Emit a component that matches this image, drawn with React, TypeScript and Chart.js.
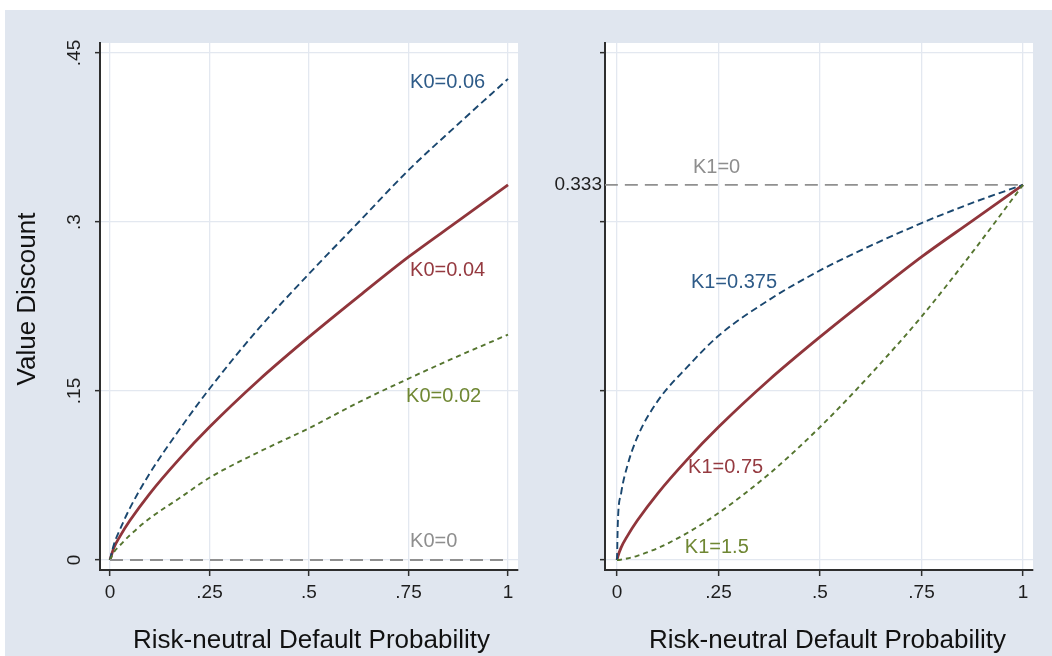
import React, { useEffect, useRef } from "react";
import { Chart, registerables } from "chart.js";

Chart.register(...registerables);

const FONT = "'Liberation Sans', Arial, sans-serif";

// ---------- data ----------
const xTicks = [0, 0.25, 0.5, 0.75, 1];
const xTickLabels = ["0", ".25", ".5", ".75", "1"];
const yTicksLeft = [0, 0.15, 0.3, 0.45];
const yTickLabelsLeft = ["0", ".15", ".3", ".45"];
const yTicksRight = [0, 0.15, 0.3, 0.333, 0.45];
const yTickLabelsRight = ["", "", "", "0.333", ""];

const probLeft = [0, 0.01, 0.025, 0.05, 0.1, 0.175, 0.25, 0.375, 0.5, 0.625, 0.75, 0.875, 1];
const k0_006 = [0, 0.014, 0.027, 0.046, 0.077, 0.116, 0.152, 0.206, 0.254, 0.3, 0.346, 0.387, 0.427];
const k0_004 = [0, 0.011, 0.021, 0.035, 0.059, 0.09, 0.118, 0.16, 0.198, 0.234, 0.269, 0.301, 0.333];
const k0_002 = [0, 0.007, 0.013, 0.022, 0.037, 0.055, 0.073, 0.096, 0.117, 0.14, 0.161, 0.181, 0.2];
const k0_0x = [0, 1];
const k0_0 = [0, 0];

const probRight = [0, 0.002, 0.01, 0.025, 0.05, 0.1, 0.175, 0.25, 0.375, 0.5, 0.625, 0.75, 0.875, 1];
const k1_0375 = [0, 0.033, 0.059, 0.083, 0.109, 0.141, 0.172, 0.199, 0.231, 0.257, 0.279, 0.299, 0.317, 0.333];
const k1_075 = [0, 0.003, 0.011, 0.021, 0.035, 0.059, 0.09, 0.118, 0.16, 0.198, 0.234, 0.269, 0.301, 0.333];
const k1_15 = [0, 0, 0.0003, 0.0013, 0.0037, 0.0105, 0.0244, 0.0417, 0.0765, 0.118, 0.165, 0.216, 0.273, 0.333];
const k1_0x = [-0.03, 1];
const k1_0 = [0.333, 0.333];

const leftNotes = ["K0=0.06", "K0=0.04", "K0=0.02", "K0=0"];
const rightNotes = ["K1=0", "K1=0.375", "K1=0.75", "K1=1.5"];

// ---------- styles ----------
const BG = "#e0e6ef";
const GRID = "#e3e8f0";
const AXIS = "#2e2e2e";
const NAVY = "#1a476f";
const MAROON = "#90353b";
const GREEN = "#55752f";
const GRAY = "#909090";

function lineDs(label: string, xs: number[], ys: number[], color: string, width: number, dash: number[]) {
  return {
    label,
    data: xs.map((x, i) => ({ x, y: ys[i] })),
    borderColor: color,
    borderWidth: width,
    borderDash: dash,
    pointRadius: 0,
    fill: false,
    cubicInterpolationMode: "monotone" as const,
  };
}

type Note = { text: string; x: number; y: number; color: string };

type PanelCfg = {
  datasets: any[];
  xMin: number;
  xMax: number;
  axisWidth: number;
  padRight: number;
  yTicks: number[];
  yLabels: string[];
  rotated: boolean;
  rotX: number;
  xTitle: string;
  xTitleX: number;
  yTitle?: string;
  yTitleX?: number;
  yTitleY?: number;
  notes: Note[];
  hideGridAt?: number;
};

function buildChart(canvas: HTMLCanvasElement, p: PanelCfg) {
  const decor = {
    id: "decor",
    beforeDraw(chart: any) {
      const { ctx, chartArea: a } = chart;
      ctx.save();
      ctx.fillStyle = "#ffffff";
      ctx.fillRect(a.left, a.top, a.right - a.left, a.bottom - a.top);
      ctx.restore();
    },
    afterDraw(chart: any) {
      const { ctx } = chart;
      const xs = chart.scales.x;
      const ys = chart.scales.y;
      ctx.save();
      ctx.font = `20px ${FONT}`;
      ctx.textAlign = "left";
      ctx.textBaseline = "middle";
      p.notes.forEach((n) => {
        ctx.fillStyle = n.color;
        ctx.fillText(n.text, xs.getPixelForValue(n.x), ys.getPixelForValue(n.y));
      });
      if (p.rotated) {
        ctx.font = `19px ${FONT}`;
        ctx.fillStyle = "#1e1e1e";
        ctx.textAlign = "center";
        ctx.textBaseline = "alphabetic";
        p.yTicks.forEach((v, i) => {
          ctx.save();
          ctx.translate(p.rotX, ys.getPixelForValue(v));
          ctx.rotate(-Math.PI / 2);
          ctx.fillText(p.yLabels[i], 0, 0);
          ctx.restore();
        });
      }
      ctx.font = `26px ${FONT}`;
      ctx.fillStyle = "#111";
      ctx.textAlign = "center";
      ctx.textBaseline = "alphabetic";
      ctx.fillText(p.xTitle, p.xTitleX, 648);
      if (p.yTitle) {
        ctx.save();
        ctx.translate(p.yTitleX as number, p.yTitleY as number);
        ctx.rotate(-Math.PI / 2);
        ctx.fillText(p.yTitle, 0, 0);
        ctx.restore();
      }
      ctx.restore();
    },
  };

  const hideAt = p.hideGridAt;
  return new Chart(canvas, {
    type: "line",
    data: { datasets: p.datasets },
    plugins: [decor],
    options: {
      animation: false,
      responsive: false,
      events: [],
      layout: { padding: { left: 0, top: 43, right: p.padRight, bottom: 0 } },
      plugins: { legend: { display: false }, tooltip: { enabled: false } },
      scales: {
        x: {
          type: "linear",
          min: p.xMin,
          max: p.xMax,
          afterBuildTicks: (s: any) => {
            s.ticks = xTicks.map((v) => ({ value: v }));
          },
          afterFit: (s: any) => {
            s.height = 86;
          },
          ticks: {
            autoSkip: false,
            maxRotation: 0,
            minRotation: 0,
            padding: 5,
            color: "#1e1e1e",
            font: { family: FONT, size: 19 },
            callback: (_v: any, i: number) => xTickLabels[i],
          },
          grid: { color: GRID, lineWidth: 1.3, tickColor: AXIS, tickLength: 6, tickWidth: 1.5 },
          border: { color: AXIS, width: 2 },
        },
        y: {
          type: "linear",
          min: -0.00888,
          max: 0.45888,
          afterBuildTicks: (s: any) => {
            s.ticks = p.yTicks.map((v) => ({ value: v }));
          },
          afterFit: (s: any) => {
            s.width = p.axisWidth;
          },
          ticks: {
            autoSkip: false,
            padding: -2,
            color: "#1e1e1e",
            font: { family: FONT, size: 19 },
            callback: (_v: any, i: number) => (p.rotated ? "" : p.yLabels[i]),
          },
          grid: {
            color: (c: any) => (hideAt !== undefined && c.tick && c.tick.value === hideAt ? "rgba(0,0,0,0)" : GRID),
            tickColor: (c: any) => (hideAt !== undefined && c.tick && c.tick.value === hideAt ? "rgba(0,0,0,0)" : AXIS),
            lineWidth: 1.3,
            tickLength: 5,
            tickWidth: 1.5,
          },
          border: { color: AXIS, width: 2 },
        },
      },
    } as any,
  });
}

export default function App() {
  const leftRef = useRef<HTMLCanvasElement>(null);
  const rightRef = useRef<HTMLCanvasElement>(null);

  useEffect(() => {
    const left = buildChart(leftRef.current as HTMLCanvasElement, {
      datasets: [
        lineDs("K0=0", k0_0x, k0_0, GRAY, 1.8, [13, 7]),
        lineDs("K0=0.02", probLeft, k0_002, GREEN, 1.9, [5, 4]),
        lineDs("K0=0.06", probLeft, k0_006, NAVY, 1.9, [7, 4]),
        lineDs("K0=0.04", probLeft, k0_004, MAROON, 2.8, []),
      ],
      xMin: -0.0251,
      xMax: 1.0251,
      axisWidth: 100,
      padRight: 2,
      yTicks: yTicksLeft,
      yLabels: yTickLabelsLeft,
      rotated: true,
      rotX: 80,
      xTitle: "Risk-neutral Default Probability",
      xTitleX: 311.5,
      yTitle: "Value Discount",
      yTitleX: 35,
      yTitleY: 299,
      notes: [
        { text: leftNotes[0], x: 0.754, y: 0.4234, color: "#2e5b88" },
        { text: leftNotes[1], x: 0.754, y: 0.2574, color: "#953a40" },
        { text: leftNotes[2], x: 0.744, y: 0.1447, color: "#6f8733" },
        { text: leftNotes[3], x: 0.754, y: 0.016, color: "#8e8e8e" },
      ],
    });
    const right = buildChart(rightRef.current as HTMLCanvasElement, {
      datasets: [
        lineDs("K1=0", k1_0x, k1_0, GRAY, 1.8, [13, 7]),
        lineDs("K1=1.5", probRight, k1_15, GREEN, 1.9, [5, 4]),
        lineDs("K1=0.375", probRight, k1_0375, NAVY, 1.9, [7, 4]),
        lineDs("K1=0.75", probRight, k1_075, MAROON, 2.8, []),
      ],
      xMin: -0.0296,
      xMax: 1.0246,
      axisWidth: 85,
      padRight: 19,
      yTicks: yTicksRight,
      yLabels: yTickLabelsRight,
      rotated: false,
      rotX: 0,
      xTitle: "Risk-neutral Default Probability",
      xTitleX: 307.5,
      hideGridAt: 0.333,
      notes: [
        { text: rightNotes[0], x: 0.187, y: 0.348, color: "#8e8e8e" },
        { text: rightNotes[1], x: 0.182, y: 0.2467, color: "#2e5b88" },
        { text: rightNotes[2], x: 0.175, y: 0.0825, color: "#953a40" },
        { text: rightNotes[3], x: 0.167, y: 0.0107, color: "#6f8733" },
      ],
    });
    return () => {
      left.destroy();
      right.destroy();
    };
  }, []);

  return (
    <div style={{ position: "absolute", left: 0, top: 0, width: 1052, height: 656, background: "#ffffff", overflow: "hidden" }}>
      <div style={{ position: "absolute", left: 5, top: 10, width: 1047, height: 646, background: BG }} />
      <canvas ref={leftRef} width={520} height={656} style={{ position: "absolute", left: 0, top: 0, width: 520, height: 656 }} />
      <canvas ref={rightRef} width={532} height={656} style={{ position: "absolute", left: 520, top: 0, width: 532, height: 656 }} />
    </div>
  );
}
